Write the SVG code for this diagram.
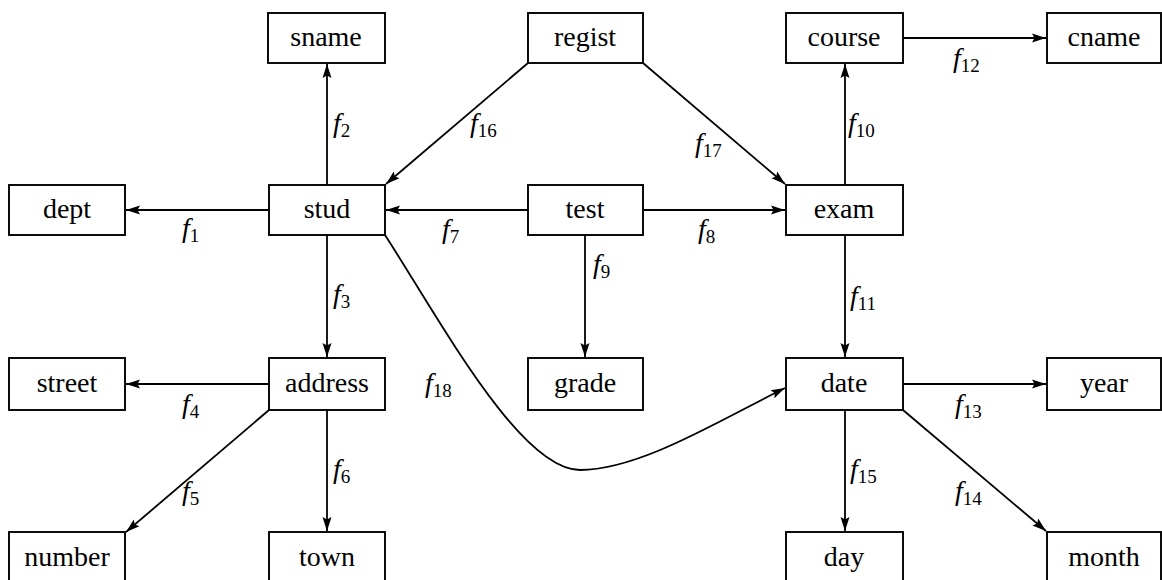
<svg xmlns="http://www.w3.org/2000/svg" width="1162" height="580" viewBox="0 0 1162 580">
  <style>
    .box { fill: #fff; stroke: #000; stroke-width: 1.9; }
    .name { font-family: "Liberation Serif", "Times New Roman", serif; font-size: 28px; text-anchor: middle; fill: #000; }
    .edge { fill: none; stroke: #000; stroke-width: 1.8; marker-end: url(#arrow); }
    .lbl { font-family: "Liberation Serif", "Times New Roman", serif; font-size: 28px; font-style: italic; fill: #000; }
    .sub { font-size: 19px; font-style: normal; }
  </style>
  <defs>
    <marker id="arrow" markerUnits="userSpaceOnUse" markerWidth="16" markerHeight="12" viewBox="0 -6 16 12" refX="14" refY="0" orient="auto">
      <path d="M0,-4.5 L14,0 L0,4.5 L2.5,0 z" fill="#000"/>
    </marker>
  </defs>
  <rect width="1162" height="580" fill="#fff"/>

  <!-- connectors -->
  <g id="connectors">
    <line class="edge" x1="269" y1="210" x2="126" y2="210"/>
    <line class="edge" x1="327" y1="185" x2="327" y2="64"/>
    <line class="edge" x1="327" y1="235" x2="327" y2="357"/>
    <line class="edge" x1="269" y1="384" x2="126" y2="384"/>
    <line class="edge" x1="269" y1="410" x2="126" y2="532"/>
    <line class="edge" x1="327" y1="410" x2="327" y2="531"/>
    <line class="edge" x1="528" y1="210" x2="386" y2="210"/>
    <line class="edge" x1="643" y1="210" x2="785" y2="210"/>
    <line class="edge" x1="585" y1="235" x2="585" y2="357"/>
    <line class="edge" x1="845" y1="185" x2="845" y2="64"/>
    <line class="edge" x1="845" y1="235" x2="845" y2="357"/>
    <line class="edge" x1="903" y1="38" x2="1046" y2="38"/>
    <line class="edge" x1="903" y1="384" x2="1046" y2="384"/>
    <line class="edge" x1="903" y1="410" x2="1046" y2="531"/>
    <line class="edge" x1="845" y1="410" x2="845" y2="531"/>
    <line class="edge" x1="528" y1="63" x2="386" y2="184"/>
    <line class="edge" x1="643" y1="63" x2="785" y2="184"/>
    <path class="edge" d="M385,235 C440,320 520,470 580,470 C640,470 720,420 785,388"/>

    <text class="lbl" x="182" y="237">f<tspan class="sub" dy="5">1</tspan></text>
    <text class="lbl" x="333" y="132">f<tspan class="sub" dy="5">2</tspan></text>
    <text class="lbl" x="333" y="303">f<tspan class="sub" dy="5">3</tspan></text>
    <text class="lbl" x="182" y="413">f<tspan class="sub" dy="5">4</tspan></text>
    <text class="lbl" x="182" y="500">f<tspan class="sub" dy="5">5</tspan></text>
    <text class="lbl" x="333" y="478">f<tspan class="sub" dy="5">6</tspan></text>
    <text class="lbl" x="442" y="238">f<tspan class="sub" dy="5">7</tspan></text>
    <text class="lbl" x="698" y="238">f<tspan class="sub" dy="5">8</tspan></text>
    <text class="lbl" x="593" y="273">f<tspan class="sub" dy="5">9</tspan></text>
    <text class="lbl" x="848" y="132">f<tspan class="sub" dy="5">10</tspan></text>
    <text class="lbl" x="850" y="305">f<tspan class="sub" dy="5">11</tspan></text>
    <text class="lbl" x="953" y="67">f<tspan class="sub" dy="5">12</tspan></text>
    <text class="lbl" x="955" y="413">f<tspan class="sub" dy="5">13</tspan></text>
    <text class="lbl" x="955" y="500">f<tspan class="sub" dy="5">14</tspan></text>
    <text class="lbl" x="850" y="478">f<tspan class="sub" dy="5">15</tspan></text>
    <text class="lbl" x="470" y="132">f<tspan class="sub" dy="5">16</tspan></text>
    <text class="lbl" x="695" y="152">f<tspan class="sub" dy="5">17</tspan></text>
    <text class="lbl" x="425" y="392">f<tspan class="sub" dy="5">18</tspan></text>
  </g>

  <!-- nodes -->
  <g id="sname"><rect class="box" x="268" y="13" width="117" height="50"/><text class="name" x="326" y="46">sname</text></g>
  <g id="regist"><rect class="box" x="528" y="13" width="115" height="50"/><text class="name" x="585" y="46">regist</text></g>
  <g id="course"><rect class="box" x="786" y="13" width="117" height="50"/><text class="name" x="844" y="46">course</text></g>
  <g id="cname"><rect class="box" x="1047" y="13" width="114" height="50"/><text class="name" x="1104" y="46">cname</text></g>

  <g id="dept"><rect class="box" x="9" y="185" width="116" height="50"/><text class="name" x="67" y="218">dept</text></g>
  <g id="stud"><rect class="box" x="269" y="185" width="116" height="50"/><text class="name" x="327" y="218">stud</text></g>
  <g id="test"><rect class="box" x="528" y="185" width="115" height="50"/><text class="name" x="585" y="218">test</text></g>
  <g id="exam"><rect class="box" x="786" y="185" width="117" height="50"/><text class="name" x="844" y="218">exam</text></g>

  <g id="street"><rect class="box" x="9" y="358" width="116" height="52"/><text class="name" x="67" y="392">street</text></g>
  <g id="address"><rect class="box" x="269" y="358" width="116" height="52"/><text class="name" x="327" y="392">address</text></g>
  <g id="grade"><rect class="box" x="528" y="358" width="115" height="52"/><text class="name" x="585" y="392">grade</text></g>
  <g id="date"><rect class="box" x="786" y="358" width="117" height="52"/><text class="name" x="844" y="392">date</text></g>
  <g id="year"><rect class="box" x="1047" y="358" width="114" height="52"/><text class="name" x="1104" y="392">year</text></g>

  <g id="number"><rect class="box" x="9" y="532" width="116" height="56"/><text class="name" x="67" y="566">number</text></g>
  <g id="town"><rect class="box" x="269" y="532" width="116" height="56"/><text class="name" x="327" y="566">town</text></g>
  <g id="day"><rect class="box" x="786" y="532" width="117" height="56"/><text class="name" x="844" y="566">day</text></g>
  <g id="month"><rect class="box" x="1047" y="532" width="114" height="56"/><text class="name" x="1104" y="566">month</text></g>
</svg>
